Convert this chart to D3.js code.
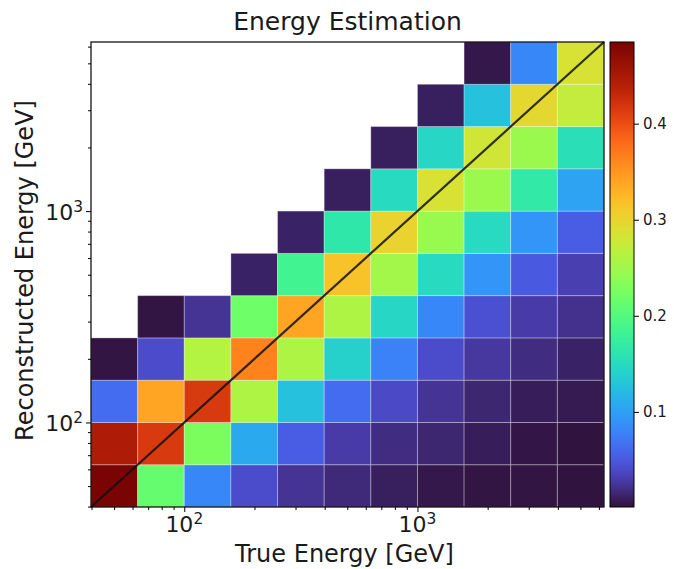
<!DOCTYPE html>
<html>
<head>
<meta charset="utf-8">
<script src="https://cdn.jsdelivr.net/npm/d3@7"></script>
<style>
  body { margin: 0; background: #fff; }
  text { font-family: "DejaVu Sans", sans-serif; fill: #1a1a1a; }
</style>
</head>
<body>
<svg id="chart" width="674" height="569"></svg>
<script>
// Log-spaced energy bins (GeV), five per decade from 10^1.6 to 10^3.8
const binEdges = [39.81, 63.10, 100.0, 158.49, 251.19, 398.11, 630.96, 1000.0, 1584.89, 2511.89, 3981.07, 6309.57];

// Fraction of events per (reconstructed bin, true bin); row 0 = lowest reconstructed bin.
// null = no events in that cell.
const row0  = [0.485, 0.213, 0.082, 0.041, 0.024, 0.017, 0.010, 0.005, 0.003, 0.003, 0.002];
const row1  = [0.446, 0.415, 0.228, 0.107, 0.053, 0.029, 0.019, 0.015, 0.009, 0.004, 0.002];
const row2  = [0.063, 0.340, 0.415, 0.259, 0.126, 0.063, 0.039, 0.024, 0.015, 0.009, 0.007];
const row3  = [0.003, 0.041, 0.262, 0.364, 0.259, 0.141, 0.078, 0.041, 0.027, 0.019, 0.012];
const row4  = [null,  0.003, 0.024, 0.218, 0.340, 0.259, 0.146, 0.082, 0.044, 0.029, 0.022];
const row5  = [null,  null,  null,  0.012, 0.184, 0.316, 0.252, 0.150, 0.092, 0.051, 0.032];
const row6  = [null,  null,  null,  null,  0.012, 0.165, 0.301, 0.245, 0.150, 0.092, 0.053];
const row7  = [null,  null,  null,  null,  null,  0.010, 0.150, 0.286, 0.247, 0.167, 0.102];
const row8  = [null,  null,  null,  null,  null,  null,  0.010, 0.146, 0.281, 0.247, 0.155];
const row9  = [null,  null,  null,  null,  null,  null,  null,  0.010, 0.126, 0.296, 0.272];
const row10 = [null,  null,  null,  null,  null,  null,  null,  null,  0.005, 0.082, 0.286];
const fraction = [row0, row1, row2, row3, row4, row5, row6, row7, row8, row9, row10];

const majorTicks = [100, 1000];
const majorExponents = ["2", "3"];
const colorTicks = [0.1, 0.2, 0.3, 0.4];
const colorTickLabels = ["0.1", "0.2", "0.3", "0.4"];
const colorRange = [0.001, 0.485];

const titleText = "Energy Estimation";
const xLabel = "True Energy [GeV]";
const yLabel = "Reconstructed Energy [GeV]";

// ---- layout ----
const plot = { left: 91, right: 604, top: 42, bottom: 507 };
const cbar = { left: 610, right: 634, top: 42, bottom: 507 };

const svg = d3.select("#chart");

const x = d3.scaleLog()
  .domain([binEdges[0], binEdges[binEdges.length - 1]])
  .range([plot.left, plot.right]);
const y = d3.scaleLog()
  .domain([binEdges[0], binEdges[binEdges.length - 1]])
  .range([plot.bottom, plot.top]);

// turbo colour map, with the ends pinned to the classic dark purple / dark red
function turboMap(t) {
  t = Math.max(0, Math.min(1, t));
  if (t < 0.05) return d3.interpolateRgb("#30123b", d3.interpolateTurbo(0.05))(t / 0.05);
  if (t > 0.9) return d3.interpolateRgb(d3.interpolateTurbo(0.9), "#7a0403")((t - 0.9) / 0.1);
  return d3.interpolateTurbo(t);
}
const norm = d3.scaleLinear().domain(colorRange).range([0, 1]).clamp(true);
const color = v => turboMap(norm(v));

// ---- heatmap cells ----
const cells = [];
fraction.forEach((row, r) => row.forEach((v, c) => {
  if (v !== null) cells.push({ r, c, v });
}));

svg.append("g").selectAll("rect")
  .data(cells)
  .join("rect")
  .attr("x", d => x(binEdges[d.c]))
  .attr("y", d => y(binEdges[d.r + 1]))
  .attr("width", d => x(binEdges[d.c + 1]) - x(binEdges[d.c]))
  .attr("height", d => y(binEdges[d.r]) - y(binEdges[d.r + 1]))
  .attr("fill", d => color(d.v))
  .attr("stroke", "rgba(255,255,255,0.3)")
  .attr("stroke-width", 1);

// ---- diagonal (reco = true) ----
const lo = binEdges[0], hi = binEdges[binEdges.length - 1];
svg.append("line")
  .attr("x1", x(lo)).attr("y1", y(lo))
  .attr("x2", x(hi)).attr("y2", y(hi))
  .attr("stroke", "#111")
  .attr("stroke-opacity", 0.85)
  .attr("stroke-width", 2.2);

// ---- axes ----
const minorTicks = [];
[10, 100, 1000].forEach(d => {
  for (let k = 2; k <= 9; k++) {
    const v = k * d;
    if (v > lo && v < hi) minorTicks.push(v);
  }
});

function styleAxis(g) {
  g.select(".domain").remove();
  g.selectAll(".tick line").attr("stroke", "#000").attr("stroke-width", 1);
}

svg.append("g")
  .attr("transform", `translate(0,${plot.bottom})`)
  .call(d3.axisBottom(x).tickValues(minorTicks).tickSize(3).tickFormat(""))
  .call(styleAxis);
svg.append("g")
  .attr("transform", `translate(0,${plot.bottom})`)
  .call(d3.axisBottom(x).tickValues(majorTicks).tickSize(5).tickFormat(""))
  .call(styleAxis);

svg.append("g")
  .attr("transform", `translate(${plot.left},0)`)
  .call(d3.axisLeft(y).tickValues(minorTicks).tickSize(3).tickFormat(""))
  .call(styleAxis);
svg.append("g")
  .attr("transform", `translate(${plot.left},0)`)
  .call(d3.axisLeft(y).tickValues(majorTicks).tickSize(5).tickFormat(""))
  .call(styleAxis);

// power-of-ten tick labels
function powerLabel(sel, i) {
  sel.append("tspan").text("10");
  sel.append("tspan")
    .attr("font-size", "0.7em")
    .attr("dy", "-0.55em")
    .text(majorExponents[i]);
}

majorTicks.forEach((v, i) => {
  const t = svg.append("text")
    .attr("x", x(v))
    .attr("y", plot.bottom + 25)
    .attr("text-anchor", "middle")
    .attr("font-size", 22);
  powerLabel(t, i);

  const u = svg.append("text")
    .attr("x", plot.left - 8)
    .attr("y", y(v) + 9)
    .attr("text-anchor", "end")
    .attr("font-size", 22);
  powerLabel(u, i);
});

// frame
svg.append("rect")
  .attr("x", plot.left).attr("y", plot.top)
  .attr("width", plot.right - plot.left)
  .attr("height", plot.bottom - plot.top)
  .attr("fill", "none")
  .attr("stroke", "#000")
  .attr("stroke-width", 1.2);

// ---- colour bar ----
const cScale = d3.scaleLinear().domain(colorRange).range([cbar.bottom, cbar.top]);
const grad = svg.append("defs").append("linearGradient")
  .attr("id", "cbarGrad")
  .attr("x1", 0).attr("y1", 1).attr("x2", 0).attr("y2", 0);
d3.range(0, 1.0001, 0.02).forEach(t => {
  grad.append("stop").attr("offset", t).attr("stop-color", turboMap(t));
});
svg.append("rect")
  .attr("x", cbar.left).attr("y", cbar.top)
  .attr("width", cbar.right - cbar.left)
  .attr("height", cbar.bottom - cbar.top)
  .attr("fill", "url(#cbarGrad)")
  .attr("stroke", "#000")
  .attr("stroke-width", 1);

const cAxis = svg.append("g")
  .attr("transform", `translate(${cbar.right},0)`)
  .call(d3.axisRight(cScale).tickValues(colorTicks).tickSize(5)
    .tickFormat((d, i) => colorTickLabels[i]));
cAxis.select(".domain").remove();
cAxis.selectAll(".tick line").attr("stroke", "#000");
cAxis.selectAll(".tick text")
  .attr("x", 9)
  .attr("font-size", 15)
  .attr("font-family", "DejaVu Sans, sans-serif")
  .attr("fill", "#1a1a1a");

// ---- titles ----
svg.append("text")
  .attr("x", (plot.left + plot.right) / 2)
  .attr("y", 30)
  .attr("text-anchor", "middle")
  .attr("font-size", 25)
  .text(titleText);

svg.append("text")
  .attr("x", (plot.left + plot.right) / 2 - 3)
  .attr("y", 562)
  .attr("text-anchor", "middle")
  .attr("font-size", 24)
  .text(xLabel);

svg.append("text")
  .attr("transform", `translate(33,${(plot.top + plot.bottom) / 2 - 4}) rotate(-90)`)
  .attr("text-anchor", "middle")
  .attr("font-size", 24)
  .text(yLabel);
</script>
</body>
</html>
